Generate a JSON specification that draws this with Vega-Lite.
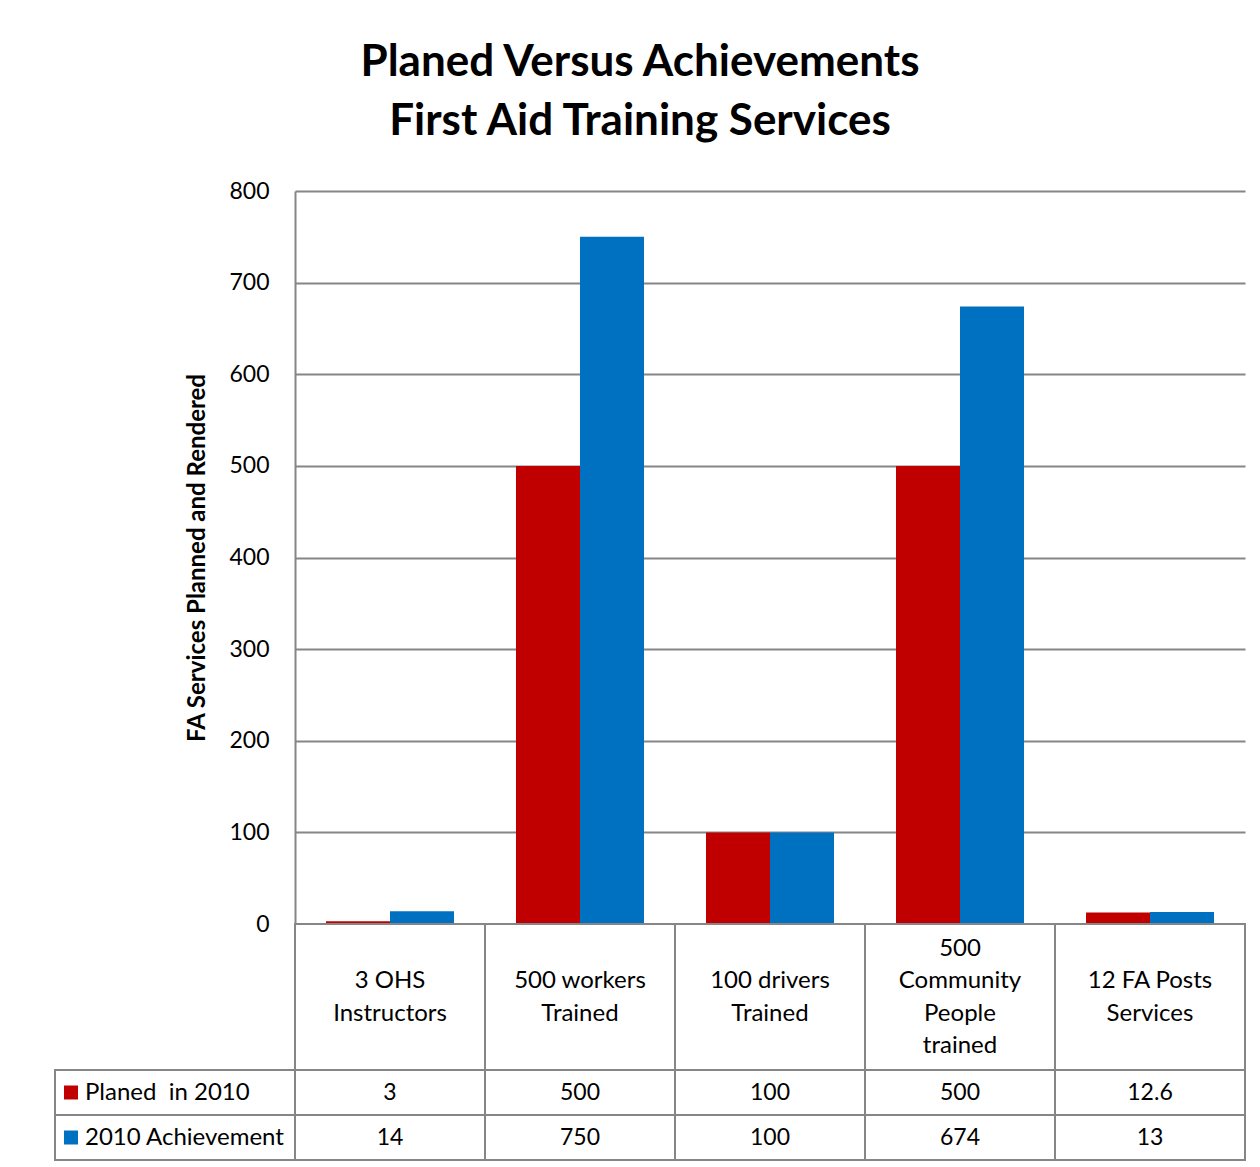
{
  "$schema": "https://vega.github.io/schema/vega-lite/v6.json",
  "padding": {"left": 54, "top": 41, "right": 16, "bottom": 7},
  "background": "white",
  "title": {
    "text": ["Planed Versus Achievements", "First Aid Training Services"],
    "fontSize": 44, "font": "Lato", "fontWeight": "bold", "lineHeight": 59,
    "anchor": "middle", "offset": 36, "dx": -10, "color": "black"
  },
  "config": {"view": {"stroke": null}, "font": "Lato"},
  "datasets": {
    "bars": [
      {"category": "3 OHS Instructors", "series": "Planed\u00a0 in 2010", "value": 3},
      {"category": "3 OHS Instructors", "series": "2010 Achievement", "value": 14},
      {"category": "500 workers Trained", "series": "Planed\u00a0 in 2010", "value": 500},
      {"category": "500 workers Trained", "series": "2010 Achievement", "value": 750},
      {"category": "100 drivers Trained", "series": "Planed\u00a0 in 2010", "value": 100},
      {"category": "100 drivers Trained", "series": "2010 Achievement", "value": 100},
      {"category": "500 Community People trained", "series": "Planed\u00a0 in 2010", "value": 500},
      {"category": "500 Community People trained", "series": "2010 Achievement", "value": 674},
      {"category": "12 FA Posts Services", "series": "Planed\u00a0 in 2010", "value": 12.6},
      {"category": "12 FA Posts Services", "series": "2010 Achievement", "value": 13}
    ],
    "cats": [
      {"category": "3 OHS Instructors", "label": "3 OHS\nInstructors"},
      {"category": "500 workers Trained", "label": "500 workers\nTrained"},
      {"category": "100 drivers Trained", "label": "100 drivers\nTrained"},
      {"category": "500 Community People trained", "label": "500\nCommunity\nPeople\ntrained"},
      {"category": "12 FA Posts Services", "label": "12 FA Posts\nServices"}
    ],
    "series": [
      {"series": "Planed\u00a0 in 2010"},
      {"series": "2010 Achievement"}
    ]
  },
  "columns": 2,
  "spacing": 0,
  "bounds": "flush",
  "concat": [
    {
      "width": 240, "height": 733,
      "data": {"values": [{}]},
      "mark": {"type": "text", "text": ""}
    },
    {
      "width": 950, "height": 733,
      "data": {"name": "bars"},
      "mark": {"type": "bar"},
      "encoding": {
        "x": {
          "field": "category", "type": "nominal",
          "sort": ["3 OHS Instructors", "500 workers Trained", "100 drivers Trained", "500 Community People trained", "12 FA Posts Services"],
          "scale": {"paddingInner": 0.3263, "paddingOuter": 0.163},
          "axis": null
        },
        "xOffset": {
          "field": "series", "type": "nominal",
          "sort": ["Planed\u00a0 in 2010", "2010 Achievement"],
          "scale": {"paddingInner": 0, "paddingOuter": 0}
        },
        "y": {
          "field": "value", "type": "quantitative",
          "scale": {"domain": [0, 800], "nice": false},
          "axis": {
            "values": [0, 100, 200, 300, 400, 500, 600, 700, 800],
            "grid": true, "gridColor": "#868686", "gridWidth": 2,
            "domain": true, "domainColor": "#868686", "domainWidth": 2,
            "ticks": false,
            "labelFontSize": 23, "labelColor": "black", "labelPadding": 26, "labelFont": "Lato",
            "title": "FA Services Planned and Rendered",
            "titleFontSize": 24, "titleFontWeight": "bold", "titleColor": "black", "titleFont": "Lato",
            "titlePadding": 19
          }
        },
        "color": {
          "field": "series", "type": "nominal",
          "scale": {"domain": ["Planed\u00a0 in 2010", "2010 Achievement"], "range": ["#C00000", "#0070C0"]},
          "legend": null
        }
      }
    },
    {
      "width": 240, "height": 146,
      "data": {"values": [{}]},
      "mark": {"type": "text", "text": ""}
    },
    {
      "width": 950, "height": 146,
      "data": {"name": "cats"},
      "encoding": {
        "x": {
          "field": "category", "type": "nominal",
          "sort": ["3 OHS Instructors", "500 workers Trained", "100 drivers Trained", "500 Community People trained", "12 FA Posts Services"],
          "scale": {"paddingInner": 0, "paddingOuter": 0},
          "axis": null
        }
      },
      "layer": [
        {"mark": {"type": "rect", "fill": "white", "stroke": "#868686", "strokeWidth": 2}},
        {
          "transform": [{"filter": {"field": "category", "oneOf": ["3 OHS Instructors", "500 workers Trained", "100 drivers Trained", "12 FA Posts Services"]}}],
          "mark": {"type": "text", "fontSize": 24, "lineHeight": 32.5, "baseline": "middle", "lineBreak": "\n", "dy": -16, "color": "black", "font": "Lato"},
          "encoding": {"text": {"field": "label", "type": "nominal"}}
        },
        {
          "transform": [{"filter": {"field": "category", "oneOf": ["500 Community People trained"]}}],
          "mark": {"type": "text", "fontSize": 24, "lineHeight": 32.5, "baseline": "middle", "lineBreak": "\n", "dy": -48.5, "color": "black", "font": "Lato"},
          "encoding": {"text": {"field": "label", "type": "nominal"}}
        }
      ]
    },
    {
      "width": 240, "height": 90,
      "data": {"name": "series"},
      "encoding": {
        "y": {
          "field": "series", "type": "nominal",
          "sort": ["Planed\u00a0 in 2010", "2010 Achievement"],
          "scale": {"paddingInner": 0, "paddingOuter": 0},
          "axis": null
        }
      },
      "layer": [
        {"mark": {"type": "rect", "fill": "white", "stroke": "#868686", "strokeWidth": 2}},
        {
          "mark": {"type": "point", "shape": "square", "filled": true, "opacity": 1, "size": 196, "x": 16},
          "encoding": {
            "color": {
              "field": "series", "type": "nominal",
              "scale": {"domain": ["Planed\u00a0 in 2010", "2010 Achievement"], "range": ["#C00000", "#0070C0"]},
              "legend": null
            }
          }
        },
        {
          "mark": {"type": "text", "fontSize": 24, "align": "left", "baseline": "middle", "x": 30, "color": "black", "font": "Lato"},
          "encoding": {"text": {"field": "series", "type": "nominal"}}
        }
      ]
    },
    {
      "width": 950, "height": 90,
      "data": {"name": "bars"},
      "encoding": {
        "x": {
          "field": "category", "type": "nominal",
          "sort": ["3 OHS Instructors", "500 workers Trained", "100 drivers Trained", "500 Community People trained", "12 FA Posts Services"],
          "scale": {"paddingInner": 0, "paddingOuter": 0},
          "axis": null
        },
        "y": {
          "field": "series", "type": "nominal",
          "sort": ["Planed\u00a0 in 2010", "2010 Achievement"],
          "scale": {"paddingInner": 0, "paddingOuter": 0},
          "axis": null
        }
      },
      "layer": [
        {"mark": {"type": "rect", "fill": "white", "stroke": "#868686", "strokeWidth": 2}},
        {
          "mark": {"type": "text", "fontSize": 23, "baseline": "middle", "color": "black", "font": "Lato"},
          "encoding": {"text": {"field": "value", "type": "nominal"}}
        }
      ]
    }
  ]
}
